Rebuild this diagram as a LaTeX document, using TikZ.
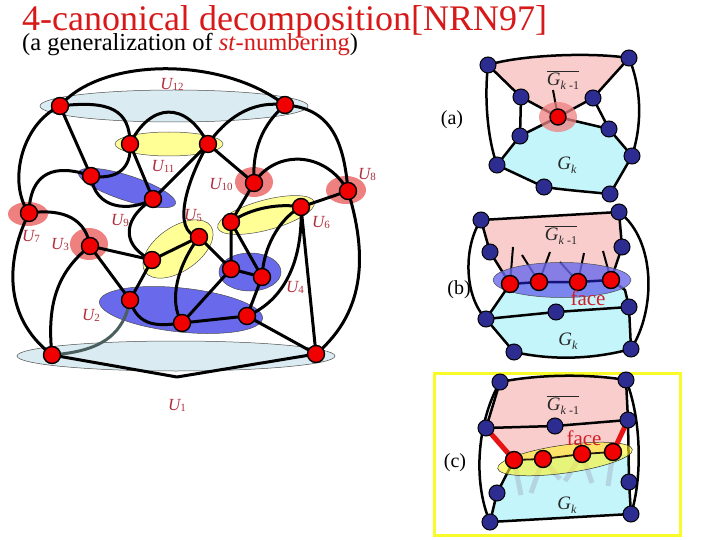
\documentclass[tikz,border=0pt]{standalone}
\usepackage{fontspec}
\setmainfont{Liberation Serif}
\usetikzlibrary{shapes.geometric}
\definecolor{titlered}{RGB}{215,25,25}
\definecolor{ulab}{RGB}{175,45,60}
\definecolor{nodered}{RGB}{240,0,0}
\definecolor{nodeblue}{RGB}{45,45,145}
\definecolor{cyanE}{RGB}{218,236,242}
\definecolor{yelE}{RGB}{255,255,150}
\definecolor{bluE}{RGB}{105,105,235}
\definecolor{redE}{RGB}{238,128,128}
\definecolor{pinkR}{RGB}{250,205,205}
\definecolor{cyanR}{RGB}{195,245,250}
\definecolor{stubB}{RGB}{180,212,226}
\definecolor{graylab}{RGB}{40,40,40}
\definecolor{frameY}{RGB}{250,250,40}
\definecolor{grayedge}{RGB}{75,95,95}
\definecolor{navyline}{RGB}{20,20,120}
\definecolor{facered}{RGB}{210,30,40}
\definecolor{thickred}{RGB}{230,20,20}
\tikzset{
 rv/.style={circle,draw=black,line width=1.4pt,fill=nodered,minimum size=17pt,inner sep=0},
 bv/.style={circle,draw=black,line width=1pt,fill=nodeblue,minimum size=16pt,inner sep=0},
 ell/.style={ellipse,inner sep=0,draw=black!70,line width=0.5pt},
 rell/.style={ellipse,inner sep=0,draw=none,fill=redE},
 gedge/.style={line width=3pt,black,line join=round},
 pedge/.style={line width=2.5pt,black,line join=round},
 stub/.style={line width=2pt,black},
 lstub/.style={line width=5pt,stubB},
 ulabel/.style={text=ulab,font=\fontsize{17}{17}\selectfont\itshape,inner sep=0},
 glabel/.style={text=graylab,font=\fontsize{19}{19}\selectfont,inner sep=0},
 plabel/.style={font=\fontsize{20}{20}\selectfont,inner sep=0},
 flabel/.style={text=facered,font=\fontsize{21}{21}\selectfont,inner sep=0},
}
\newcommand{\Ul}[1]{U\raisebox{-1pt}{\fontsize{11}{11}\selectfont\upshape #1}}
\newcommand{\Gbar}{$\overline{\hbox{\itshape G\raisebox{-4pt}{\fontsize{12}{12}\selectfont k\upshape\ -1}}}$}
\newcommand{\Gk}{{\itshape G\raisebox{-4pt}{\fontsize{12}{12}\selectfont k}}}
\begin{document}
\begin{tikzpicture}[x=1pt,y=-1pt]
\useasboundingbox (0,0) rectangle (720,540);

% ---------- title ----------
\node[anchor=base west,text=titlered,font=\fontsize{36}{36}\selectfont,inner sep=0] (title) at (22,31) {4-canonical decomposition[NRN97]};
\node[anchor=base west,font=\fontsize{24.5}{24.5}\selectfont,inner sep=0] (sub) at (22,51) {(a generalization of \textcolor{titlered}{\textit{st}-numbering})};

% ---------- main graph: ellipses ----------
\node[ell,fill=cyanE,minimum width=268pt,minimum height=32pt] (e12) at (174,106) {};
\node[ell,fill=yelE,minimum width=108pt,minimum height=24pt] (e11) at (169,144) {};
\node[ell,fill=bluE,minimum width=102pt,minimum height=25pt,rotate=-18] (e9) at (127,188) {};
\node[rell,minimum width=40pt,minimum height=24pt] (e7) at (28,214) {};
\node[rell,minimum width=38pt,minimum height=32pt] (e3) at (89,244) {};
\node[rell,minimum width=38pt,minimum height=30pt] (e10) at (254,182) {};
\node[rell,minimum width=40pt,minimum height=28pt] (e8) at (346,190) {};
\node[ell,fill=yelE,minimum width=100pt,minimum height=30pt,rotate=15] (e6) at (266,215) {};
\node[ell,fill=yelE,minimum width=80pt,minimum height=44pt,rotate=35] (e5) at (178,249) {};
\node[ell,fill=bluE,minimum width=62pt,minimum height=38pt] (e4) at (250,272) {};
\node[ell,fill=bluE,minimum width=164pt,minimum height=44pt,rotate=-6] (e2) at (181,310) {};
\node[ell,fill=cyanE,minimum width=318pt,minimum height=30pt] (e1) at (176,356) {};

% ---------- main graph: vertices ----------
\coordinate (A) at (60,106);
\coordinate (B) at (285,105);
\coordinate (C) at (130,144);
\coordinate (D) at (208,144);
\coordinate (E) at (91,176);
\coordinate (F) at (153,199);
\coordinate (G) at (29,213);
\coordinate (H) at (90,246);
\coordinate (I) at (254,183);
\coordinate (J) at (348,191);
\coordinate (K) at (199,237);
\coordinate (L) at (152,260);
\coordinate (M) at (231,222);
\coordinate (N) at (301,207);
\coordinate (O) at (231,269);
\coordinate (P) at (262,277);
\coordinate (Q) at (130,300);
\coordinate (R) at (182,323);
\coordinate (S) at (247,316);
\coordinate (T) at (52,355);
\coordinate (V) at (316,354);
\coordinate (Tb) at (177,377);

% ---------- main graph: edges ----------
\draw[gedge] (A) .. controls (100,58) and (220,55) .. (B);
\draw[gedge] (A) .. controls (110,100) and (130,110) .. (C);
\draw[gedge] (A) -- (E);
\draw[gedge] (A) .. controls (20,125) and (8,185) .. (G);
\draw[gedge] (B) .. controls (250,100) and (225,120) .. (D);
\draw[gedge] (B) .. controls (262,125) and (252,150) .. (I);
\draw[gedge] (B) .. controls (330,108) and (344,140) .. (J);
\draw[gedge] (C) .. controls (150,103) and (186,100) .. (D);
\draw[gedge] (E) .. controls (115,180) and (132,170) .. (C);
\draw[gedge] (C) -- (F);
\draw[gedge] (D) -- (F);
\draw[gedge] (D) .. controls (188,178) and (170,232) .. (K);
\draw[gedge] (D) -- (I);
\draw[gedge] (E) .. controls (95,210) and (130,212) .. (F);
\draw[gedge] (E) .. controls (55,163) and (30,172) .. (G);
\draw[gedge] (F) .. controls (118,222) and (125,248) .. (L);
\draw[gedge] (G) .. controls (65,208) and (86,220) .. (H);
\draw[gedge] (G) .. controls (8,255) and (0,315) .. (T);
\draw[gedge] (H) -- (L);
\draw[gedge] (H) -- (Q);
\draw[gedge] (H) .. controls (60,270) and (46,300) .. (T);
\draw[gedge] (L) -- (K);
\draw[gedge] (L) -- (Q);
\draw[gedge] (Q) .. controls (138,328) and (160,326) .. (R);
\draw[line width=3pt,grayedge] (Q) .. controls (122,345) and (85,352) .. (T);
\draw[gedge] (K) -- (O);
\draw[gedge] (K) .. controls (178,265) and (168,300) .. (R);
\draw[gedge] (M) .. controls (250,208) and (280,203) .. (N);
\draw[gedge] (M) -- (I);
\draw[gedge] (M) -- (O) -- (P) -- (M);
\draw[gedge] (O) -- (R) -- (S) -- (P);
\draw[gedge] (P) .. controls (264,240) and (285,215) .. (N);
\draw[gedge] (N) -- (V);
\draw[gedge] (S) .. controls (285,300) and (303,260) .. (N);
\draw[gedge] (N) -- (J);
\draw[gedge] (I) .. controls (275,150) and (325,150) .. (J);
\draw[gedge] (J) .. controls (366,250) and (368,310) .. (V);
\draw[gedge] (S) -- (V);
\draw[gedge] (T) -- (Tb) -- (V);

\foreach \n in {A,B,C,D,E,F,G,H,I,J,K,L,M,N,O,P,Q,R,S,T,V}
  \node[rv] (v\n) at (\n) {};

% ---------- main graph: labels ----------
\node[ulabel] (l12) at (172,84) {\Ul{12}};
\node[ulabel] (l11) at (163,166) {\Ul{11}};
\node[ulabel] (l10) at (221,184) {\Ul{10}};
\node[ulabel] (l8) at (367,174) {\Ul{8}};
\node[ulabel] (l9) at (120,220) {\Ul{9}};
\node[ulabel] (l5) at (193,215) {\Ul{5}};
\node[ulabel] (l6) at (321,222) {\Ul{6}};
\node[ulabel] (l7) at (31,236) {\Ul{7}};
\node[ulabel] (l3) at (60,244) {\Ul{3}};
\node[ulabel] (l4) at (295,287) {\Ul{4}};
\node[ulabel] (l2) at (91,315) {\Ul{2}};
\node[ulabel] (l1) at (177,405) {\Ul{1}};

% ---------- panel (a) ----------
\coordinate (a1) at (488,65);
\coordinate (a2) at (629,58);
\coordinate (a3) at (521,97);
\coordinate (a4) at (593,98);
\coordinate (ac) at (558,117);
\coordinate (a5) at (520,136);
\coordinate (a6) at (609,129);
\coordinate (a7) at (497,165);
\coordinate (a8) at (632,156);
\coordinate (a9) at (544,187);
\coordinate (a10) at (610,194);
\coordinate (apt) at (553,90);
\fill[pinkR] (a1) .. controls (520,55) and (590,52) .. (a2) -- (a4) -- (ac) -- (a3) -- cycle;
\fill[cyanR] (ac) -- (a6) -- (a8) -- (a10) .. controls (590,192) and (565,190) .. (a9) -- (a7) -- (a5) -- cycle;
\draw[pedge] (a1) .. controls (520,55) and (590,52) .. (a2);
\draw[pedge] (a1) .. controls (484,100) and (488,140) .. (a7);
\draw[pedge] (a2) .. controls (642,90) and (642,125) .. (a8);
\draw[pedge] (a1) -- (a3) -- (ac) -- (a4) -- (a2);
\draw[pedge] (a3) -- (a5) -- (ac) -- (a6) -- (a4);
\draw[pedge] (a5) -- (a7) -- (a9);
\draw[pedge] (a6) -- (a8) -- (a10);
\draw[pedge] (a10) .. controls (590,192) and (565,190) .. (a9);
\draw[line width=2pt] (ac) -- (apt);
\node[rell,fill opacity=0.75,minimum width=38pt,minimum height=30pt] (ea) at (558,117) {};
\foreach \n in {a1,a2,a3,a4,a5,a6,a7,a8,a9,a10}
  \node[bv] (v\n) at (\n) {};
\node[rv,minimum size=16pt] (vac) at (ac) {};
\node[plabel] (la) at (452,120) {(a)};
\node[glabel] (ga1) at (563,80) {\Gbar};
\node[glabel] (ga2) at (567,165) {\Gk};

% ---------- panel (b) ----------
\coordinate (b1) at (481,220);
\coordinate (b2) at (619,212);
\coordinate (b3) at (490,252);
\coordinate (b4) at (622,247);
\coordinate (r1) at (510,284);
\coordinate (r2) at (539,282);
\coordinate (r3) at (578,282);
\coordinate (r4) at (611,280);
\coordinate (b5) at (486,319);
\coordinate (b6) at (556,312);
\coordinate (b7) at (629,307);
\coordinate (b8) at (514,352);
\coordinate (b9) at (631,349);
\coordinate (bx) at (625,290);
\fill[pinkR] (b1) -- (b2) -- (b4) -- (r4) -- (r3) -- (r2) -- (r1) -- (b3) -- cycle;
\fill[cyanR] (r1) -- (r4) -- (bx) -- (b7) -- (b9) .. controls (590,360) and (550,360) .. (b8) -- (b5) -- cycle;
\draw[pedge] (b1) -- (b2);
\draw[pedge] (b1) -- (b3) -- (r1);
\draw[pedge] (b2) -- (b4) -- (r4) -- (bx) -- (b7);
\draw[pedge] (r1) -- (b5) -- (b6) -- (b7) -- (b9);
\draw[pedge] (b5) -- (b8);
\draw[pedge] (b8) .. controls (550,360) and (590,360) .. (b9);
\draw[pedge] (b1) .. controls (464,245) and (463,295) .. (b5);
\draw[pedge] (b2) .. controls (656,240) and (656,310) .. (b9);
\coordinate (sb1) at (513,247);
\coordinate (sb2) at (522,255);
\coordinate (sb3) at (550,252);
\coordinate (sb4) at (560,262);
\coordinate (sb5) at (584,253);
\coordinate (sb6) at (603,251);
\draw[stub] (sb1) -- (r1);
\draw[stub] (sb2) -- (r2);
\draw[stub] (sb3) -- (r2);
\draw[stub] (sb4) -- (r3);
\draw[stub] (sb5) -- (r3);
\draw[stub] (sb6) -- (r4);
\node[ell,fill=bluE,fill opacity=0.8,minimum width=138pt,minimum height=35pt] (eb) at (562,280) {};
\draw[line width=2.5pt,navyline] (r1) -- (r2) -- (r3) -- (r4);
\foreach \n in {b1,b2,b3,b4,b5,b6,b7,b8,b9}
  \node[bv] (v\n) at (\n) {};
\foreach \n in {r1,r2,r3,r4}
  \node[rv] (v\n) at (\n) {};
\node[plabel] (lb) at (459,290) {(b)};
\node[flabel] (fb) at (588,298) {face};
\node[glabel] (gb1) at (561,235) {\Gbar};
\node[glabel] (gb2) at (568,341) {\Gk};

% ---------- panel (c) ----------
\node[draw=frameY,line width=3pt,minimum width=246pt,minimum height=162pt,inner sep=0] (frame) at (557,454) {};
\coordinate (c1) at (500,382);
\coordinate (c2) at (626,380);
\coordinate (c3) at (486,428);
\coordinate (c4) at (555,426);
\coordinate (c5) at (628,420);
\coordinate (s1) at (514,460);
\coordinate (s2) at (543,459);
\coordinate (s3) at (582,454);
\coordinate (s4) at (613,452);
\coordinate (c6) at (497,493);
\coordinate (c7) at (629,482);
\coordinate (c8) at (490,522);
\coordinate (c9) at (631,514);
\coordinate (cx) at (628,455);
\fill[pinkR] (c1) .. controls (540,374) and (590,374) .. (c2) -- (c5) -- (s4) -- (s3) -- (s2) -- (s1) -- (c3) -- cycle;
\fill[cyanR] (s1) -- (s2) -- (s3) -- (s4) -- (cx) -- (c7) -- (c9) -- (c8) -- (c6) -- cycle;
\draw[pedge] (c1) .. controls (540,374) and (590,374) .. (c2);
\draw[pedge] (c1) -- (c3) -- (c4) -- (c5) -- (c2);
\draw[pedge] (c5) -- (c7) -- (c9);
\draw[pedge] (s1) -- (c6) -- (c8) -- (c9);
\draw[pedge] (c1) .. controls (478,420) and (472,480) .. (c8);
\draw[pedge] (c2) .. controls (642,420) and (642,480) .. (c9);
\coordinate (t1) at (521,495);
\coordinate (t2) at (531,493);
\coordinate (t3) at (560,479);
\coordinate (t4) at (565,481);
\coordinate (t5) at (592,483);
\coordinate (t6) at (608,486);
\draw[lstub] (s1) -- (t1);
\draw[lstub] (s2) -- (t2);
\draw[lstub] (s2) -- (t3);
\draw[lstub] (s3) -- (t4);
\draw[lstub] (s3) -- (t5);
\draw[lstub] (s4) -- (t6);
\node[ell,draw=black!80,fill=yellow!85!white,fill opacity=0.6,minimum width=136pt,minimum height=28pt,rotate=8] (ec) at (565,459) {};
\draw[line width=1.8pt,black!80!brown] (s1) -- (s2) -- (s3) -- (s4);
\draw[line width=5pt,thickred] (c3) -- (s1);
\draw[line width=5pt,thickred] (c5) -- (s4);
\foreach \n in {c1,c2,c3,c4,c5,c6,c7,c8,c9}
  \node[bv] (v\n) at (\n) {};
\foreach \n in {s1,s2,s3,s4}
  \node[rv] (v\n) at (\n) {};
\node[plabel] (lc) at (455,463) {(c)};
\node[flabel] (fc) at (584,438) {face};
\node[glabel] (gc1) at (563,405) {\Gbar};
\node[glabel] (gc2) at (567,505) {\Gk};
\end{tikzpicture}
\end{document}
